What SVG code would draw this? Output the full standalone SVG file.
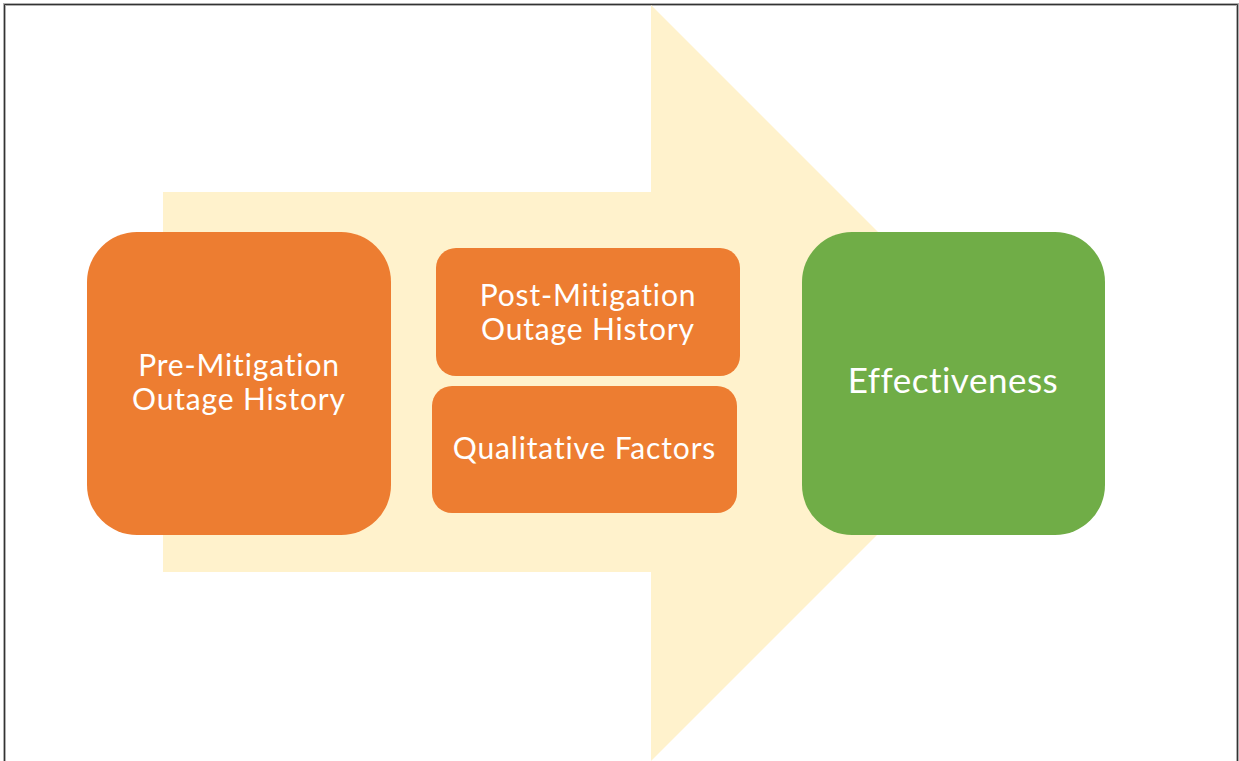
<svg xmlns="http://www.w3.org/2000/svg" width="1239" height="761" viewBox="0 0 1239 761">
<style>
.lbl{font-family:Lato,"Liberation Sans",sans-serif;fill:#FFFFFF;text-anchor:middle;font-size:30px;letter-spacing:0.85px;font-variant-ligatures:none;font-feature-settings:"liga" 0}
.o{fill:#ED7D31}
.g{fill:#70AD47}
</style>
<rect x="0" y="0" width="1239" height="761" fill="#FFFFFF"/>
<path d="M4.5,761 V4.5 H1237.5 V761" fill="none" stroke="#B0B0B0" stroke-width="3"/>
<path d="M4.5,761 V4.5 H1237.5 V761" fill="none" stroke="#333333" stroke-width="1"/>
<g id="arrow">
<polygon points="163,192 651,192 651,5 1029,383 651,761 651,572 163,572" fill="#FFF2CC"/>
</g>
<g id="connectors"></g>
<g id="pre">
<rect class="o" x="87" y="232" width="304" height="303" rx="50" ry="50"/>
<text class="lbl" x="239" y="376">Pre-Mitigation</text>
<text class="lbl" x="239" y="410">Outage History</text>
</g>
<g id="post">
<rect class="o" x="436" y="248" width="304" height="128" rx="20" ry="20"/>
<text class="lbl" x="588" y="306">Post-Mitigation</text>
<text class="lbl" x="588" y="340">Outage History</text>
</g>
<g id="qual">
<rect class="o" x="432" y="386" width="305" height="127" rx="20" ry="20"/>
<text class="lbl" x="584.5" y="459">Qualitative Factors</text>
</g>
<g id="eff">
<rect class="g" x="802" y="232" width="303" height="303" rx="50" ry="50"/>
<text class="lbl" x="953" y="393" style="font-size:35px;letter-spacing:0.5px">Effectiveness</text>
</g>
</svg>
